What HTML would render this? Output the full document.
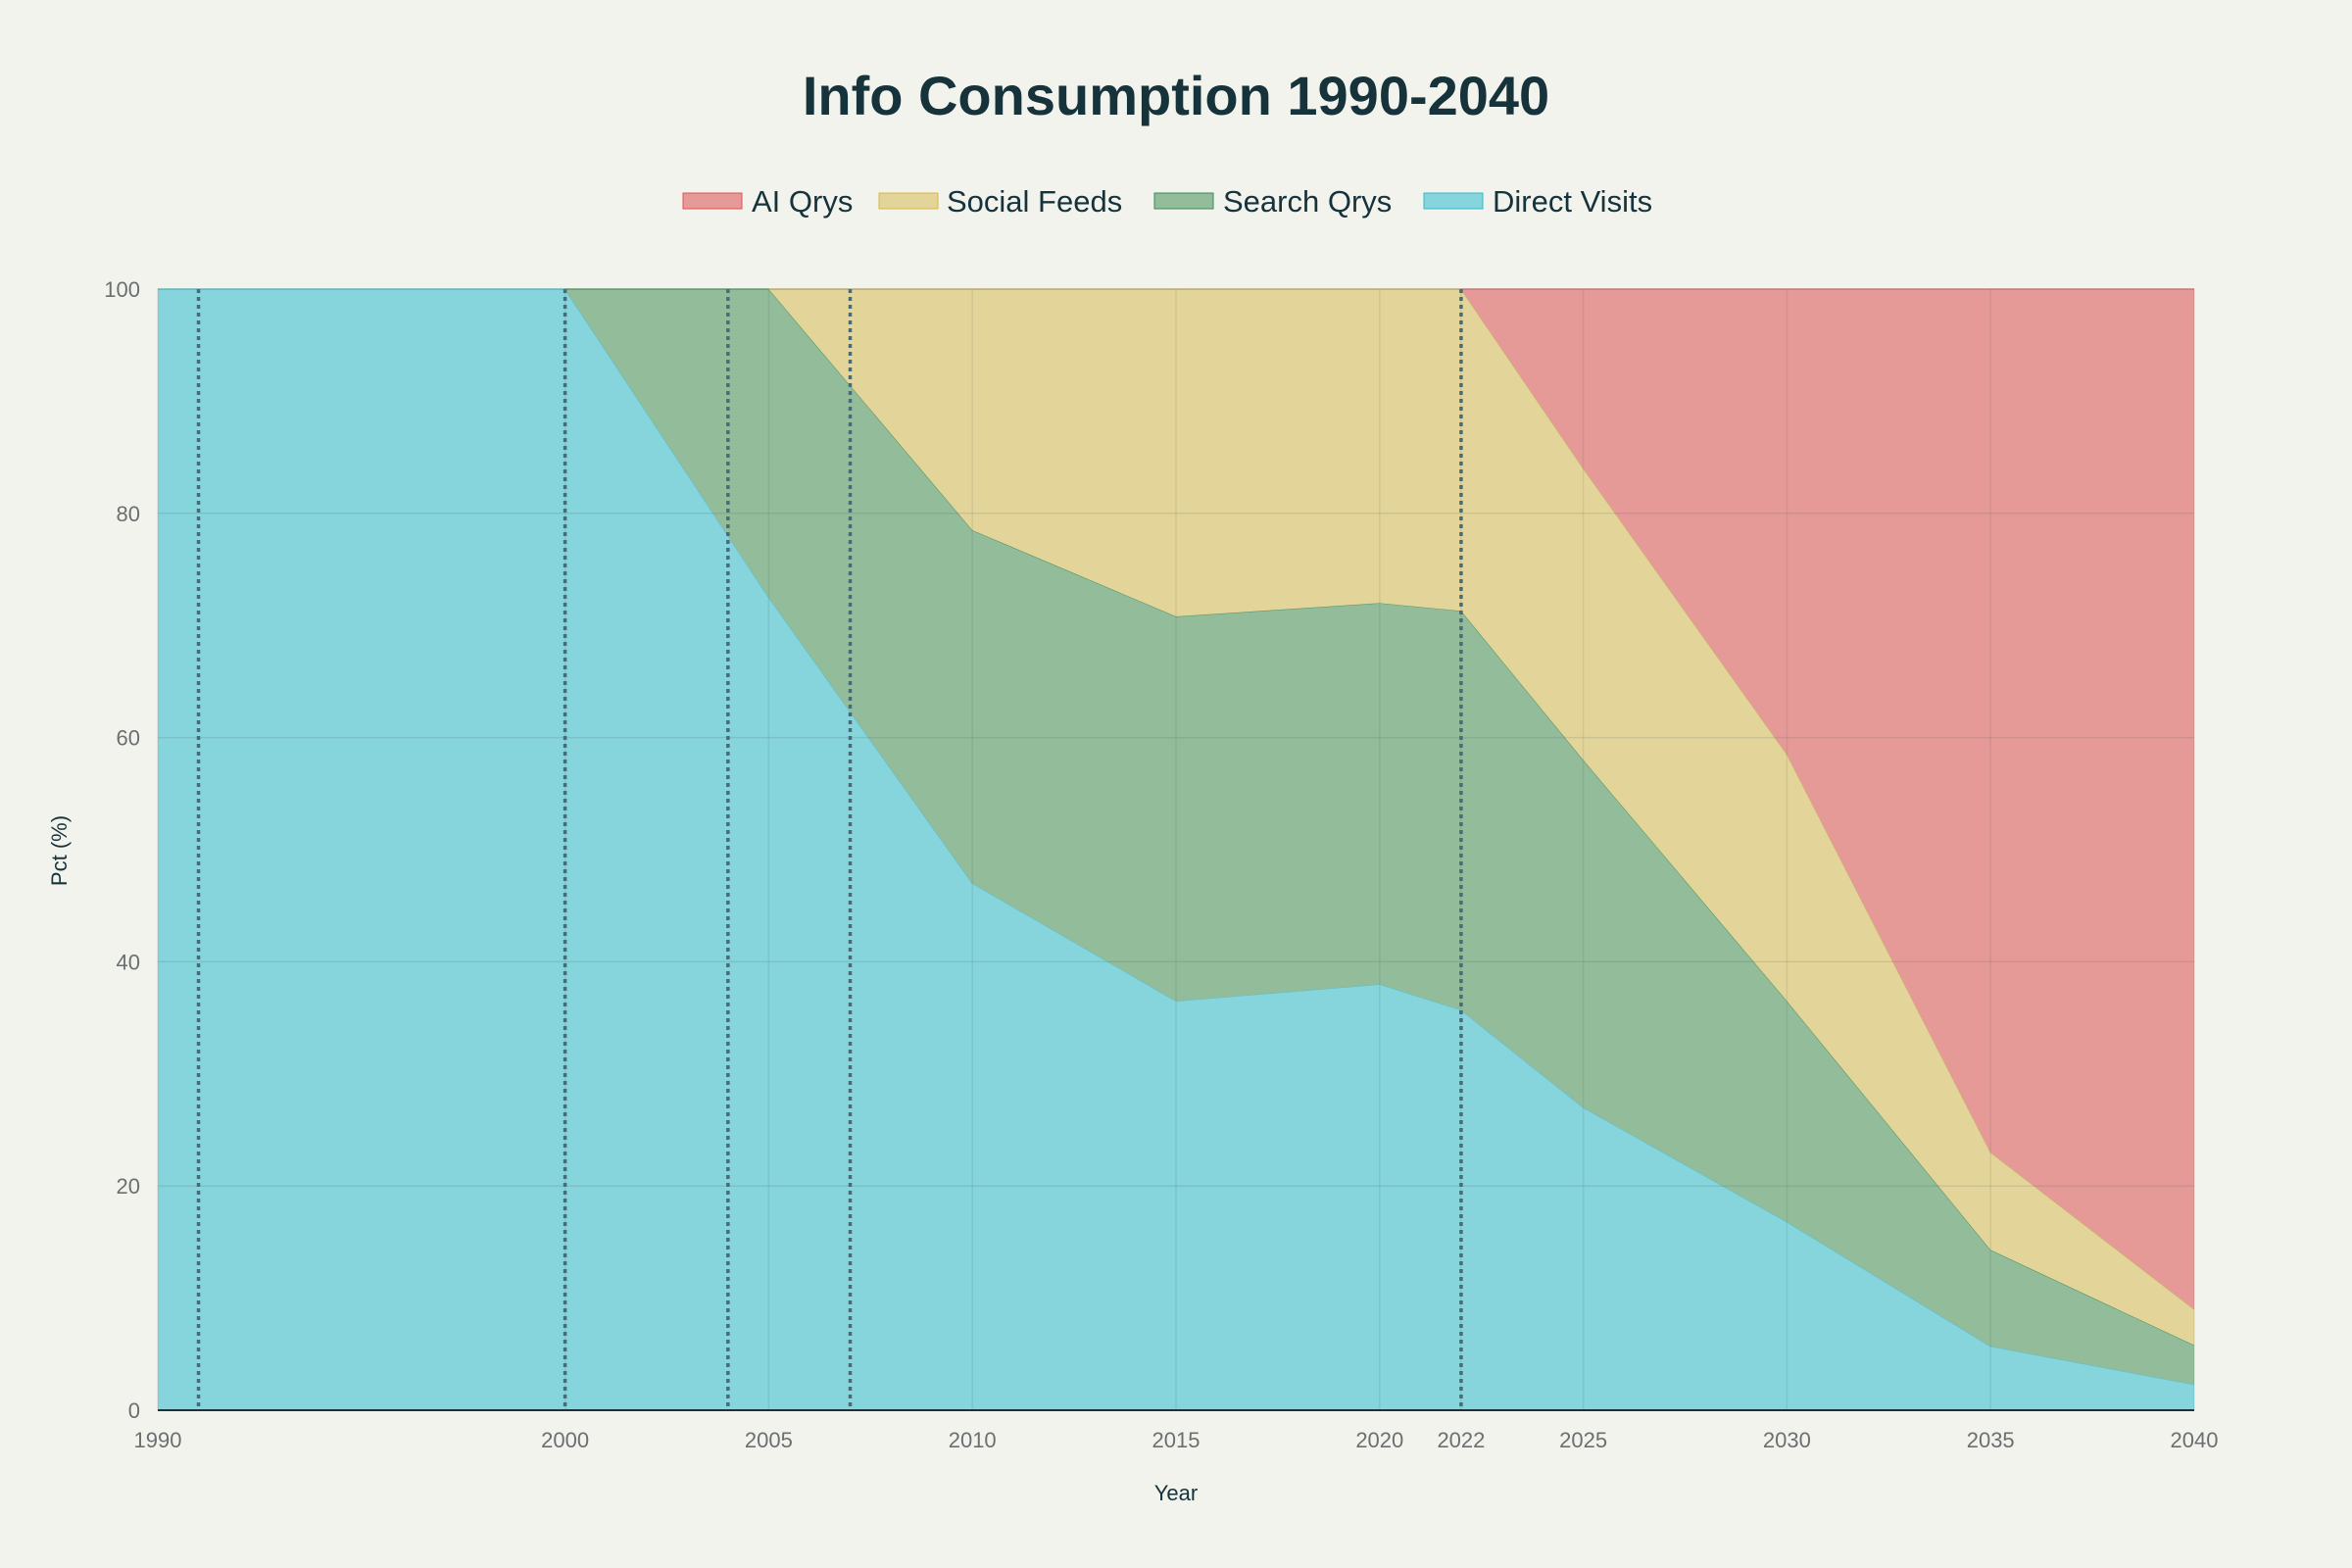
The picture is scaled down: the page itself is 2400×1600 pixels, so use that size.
<!DOCTYPE html>
<html><head><meta charset="utf-8">
<style>
html,body{margin:0;padding:0;background:#f3f3ee;}
svg{display:block;font-family:"Liberation Sans",sans-serif;}
</style></head>
<body>
<svg id="chart" width="2400" height="1600" viewBox="0 0 2400 1600">
<rect width="2400" height="1600" fill="#f3f3ee"/>
<text x="1200" y="117" text-anchor="middle" font-size="56" font-weight="bold" fill="#16333b">Info Consumption 1990-2040</text>
<g>
 <g><rect x="697" y="197" width="60" height="16" fill="#e69a98" stroke="#e05050" stroke-width="1"/><text x="767" y="216" font-size="31" fill="#16333b">AI Qrys</text></g>
 <g><rect x="897" y="197" width="60" height="16" fill="#e3d59a" stroke="#d8b840" stroke-width="1"/><text x="966" y="216" font-size="31" fill="#16333b">Social Feeds</text></g>
 <g><rect x="1178" y="197" width="60" height="16" fill="#93bc9a" stroke="#3a8a55" stroke-width="1"/><text x="1248" y="216" font-size="31" fill="#16333b">Search Qrys</text></g>
 <g><rect x="1453" y="197" width="60" height="16" fill="#86d4dc" stroke="#30b8cc" stroke-width="1"/><text x="1523" y="216" font-size="31" fill="#16333b">Direct Visits</text></g>
</g>
<g id="plot"></g>
<text x="1200" y="1531" text-anchor="middle" font-size="22" fill="#16333b">Year</text>
<text transform="translate(68,868) rotate(-90)" text-anchor="middle" font-size="22" fill="#16333b">Pct (%)</text>
</svg>
<script>
const years = [1990, 2000, 2005, 2010, 2015, 2020, 2022, 2025, 2030, 2035, 2040];
const direct = [100, 100, 72.5, 47, 36.5, 38, 35.7, 27, 16.8, 5.7, 2.3];
const search = [0, 0, 27.5, 31.5, 34.3, 34, 35.6, 31, 19.7, 8.6, 3.5];
const social = [0, 0, 0, 21.5, 29.2, 28, 28.7, 26, 22, 8.7, 3.2];
const ai = [0, 0, 0, 0, 0, 0, 0, 16, 41.5, 77, 91];
const xTicks = [1990, 2000, 2005, 2010, 2015, 2020, 2022, 2025, 2030, 2035, 2040];
const yTicks = [0, 20, 40, 60, 80, 100];
const markerYears = [1991, 2000, 2004, 2007, 2022];

const X0 = 161, X1 = 2239, Y0 = 1439, Y1 = 295;
const xs = y => X0 + (y - 1990) / 50 * (X1 - X0);
const ys = v => Y0 - v / 100 * (Y0 - Y1);
const NS = "http://www.w3.org/2000/svg";
const plot = document.getElementById('plot');
function mk(tag, attrs, parent) {
  const e = document.createElementNS(NS, tag);
  for (const k in attrs) e.setAttribute(k, attrs[k]);
  (parent || plot).appendChild(e);
  return e;
}
const series = [
  {name: 'direct', vals: direct, fill: '#86d4dc', line: '#5cc0cc'},
  {name: 'search', vals: search, fill: '#93bc9a', line: '#5a9a6a'},
  {name: 'social', vals: social, fill: '#e3d59a', line: '#c8b468'},
  {name: 'ai', vals: ai, fill: '#e69a98', line: '#d87878'}
];
let base = years.map(() => 0);
series.forEach(s => {
  const tot = years.map((_, i) => direct[i] + search[i] + social[i] + ai[i]);
  const top = base.map((b, i) => b + s.vals[i] / tot[i] * 100);
  let d = 'M' + years.map((y, i) => xs(y) + ',' + ys(top[i])).join('L');
  for (let i = years.length - 1; i >= 0; i--) d += 'L' + xs(years[i]) + ',' + ys(base[i]);
  d += 'Z';
  const a = mk('path', {d: d, fill: s.fill, stroke: 'none'});
  
  
  let first = s.vals.findIndex(v => v > 0);
  if (first < 0) first = years.length;
  const startIdx = Math.max(0, first - 1);
  const pts = [];
  for (let i = startIdx; i < years.length; i++) pts.push(xs(years[i]) + ',' + ys(top[i]));
  if (pts.length > 1) {
    const l = mk('path', {d: 'M' + pts.join('L'), fill: 'none', stroke: s.line, 'stroke-width': 1.2});
    
    
  }
  base = top;
});
yTicks.forEach(v => {
  const g = mk('line', {x1: X0, x2: X1, y1: ys(v), y2: ys(v), stroke: 'rgba(60,90,90,0.15)', 'stroke-width': 1.5});
  
  
  const t = mk('text', {x: X0 - 18, y: ys(v) + 8, 'text-anchor': 'end', 'font-size': 22, fill: '#6a7070'});
  t.textContent = v;
  
  
});
xTicks.forEach(y => {
  const g = mk('line', {x1: xs(y), x2: xs(y), y1: Y1, y2: Y0, stroke: 'rgba(60,90,90,0.12)', 'stroke-width': 1.5});
  
  
  const t = mk('text', {x: xs(y), y: Y0 + 38, 'text-anchor': 'middle', 'font-size': 22, fill: '#6a7070'});
  t.textContent = y;
  
  
});
markerYears.forEach(y => {
  const m = mk('line', {x1: xs(y), x2: xs(y), y1: Y1, y2: Y0, stroke: '#4a6a78', 'stroke-width': 3.5, 'stroke-dasharray': '4,4'});
  
  
});
const ax = mk('line', {x1: X0, x2: X1, y1: Y0, y2: Y0, stroke: '#16333b', 'stroke-width': 2});


</script>
</body></html>
